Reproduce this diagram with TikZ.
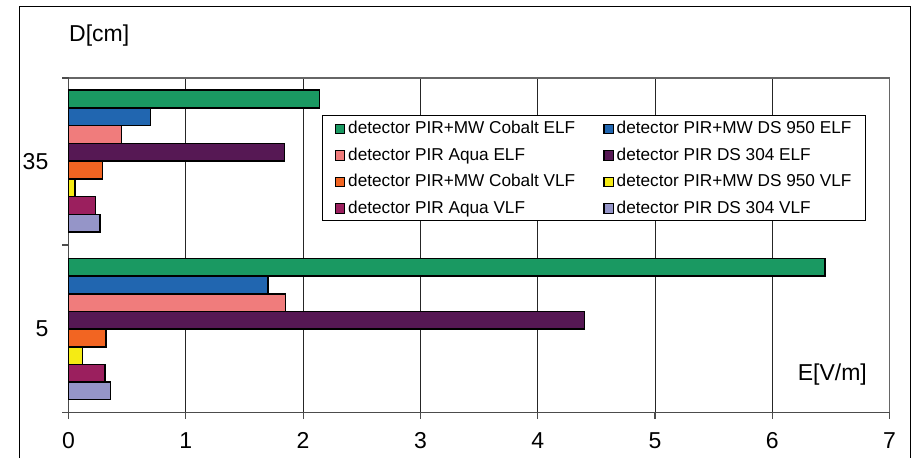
\documentclass[tikz,border=0pt]{standalone}
\usepackage{fontspec}
\setmainfont{Liberation Sans}
\definecolor{cgreen}{RGB}{26,153,98}
\definecolor{cblue}{RGB}{33,102,176}
\definecolor{cpink}{RGB}{240,124,124}
\definecolor{cpurple}{RGB}{86,24,84}
\definecolor{corange}{RGB}{242,101,34}
\definecolor{cyellow}{RGB}{245,235,20}
\definecolor{cmagenta}{RGB}{155,31,94}
\definecolor{clav}{RGB}{149,149,200}
\begin{document}
\begin{tikzpicture}[x=1pt,y=-1pt,
  bar/.style={draw=black,line width=1.5pt},
  grid/.style={draw=black!85,line width=0.9pt},
  frameline/.style={draw=black!60,line width=1.6pt},
  axisline/.style={draw=black!70,line width=1.2pt},
  legtext/.style={anchor=base west,inner sep=0pt,font=\fontsize{17.2}{20}\selectfont},
  ticklab/.style={font=\fontsize{23}{26}\selectfont,inner sep=0pt},
  legmark/.style={draw=black,line width=1.3pt}]
\useasboundingbox (0,0) rectangle (918,458);
\fill[white] (0,0) rectangle (918,458);
% outer frame
\draw[black,line width=1pt] (19,458) -- (19,6) -- (910,6) -- (910,458);
% grid lines
\foreach \i in {1,...,6} \draw[grid] ({68.5+117.3*\i},78) -- ({68.5+117.3*\i},412.3);
% plot border top and right
\draw[frameline] (68.5,78) -- (889.6,78) -- (889.6,412.3);
% axes
\draw[axisline] (68.5,78) -- (68.5,412.3) -- (889.6,412.3);
\foreach \y in {78,245,412.3} \draw[axisline] (62,\y) -- (68.5,\y);
\foreach \i in {0,...,7} \draw[axisline] ({68.5+117.3*\i},412.3) -- ({68.5+117.3*\i},418.5);
% bars group 35
\foreach \v/\c [count=\k from 0] in {2.14/cgreen,0.70/cblue,0.45/cpink,1.84/cpurple,0.29/corange,0.055/cyellow,0.23/cmagenta,0.27/clav}
  \draw[bar,fill=\c] (68.5,{90+17.75*\k}) rectangle ({68.5+117.3*\v},{90+17.75*(\k+1)});
% bars group 5
\foreach \v/\c [count=\k from 0] in {6.45/cgreen,1.70/cblue,1.85/cpink,4.40/cpurple,0.32/corange,0.12/cyellow,0.31/cmagenta,0.36/clav}
  \draw[bar,fill=\c] (68.5,{258.5+17.65*\k}) rectangle ({68.5+117.3*\v},{258.5+17.65*(\k+1)});
% tick labels
\foreach \i in {0,...,7} \node[ticklab,anchor=base] (xt\i) at ({68.5+117.3*\i},448.5) {\i};
\node[ticklab,anchor=base east] (y35) at (48.5,169.3) {35};
\node[ticklab,anchor=base east] (y5) at (48.5,336.7) {5};
\node[ticklab,anchor=base west] (dlab) at (69,41.7) {D[cm]};
\node[ticklab,anchor=base east] (elab) at (867,380) {E[V/m]};
% legend
\draw[fill=white,draw=black,line width=1pt] (322.3,115.3) rectangle (865,220);
\foreach \t/\c/\y [count=\k] in {detector PIR+MW Cobalt ELF/cgreen/129,detector PIR Aqua ELF/cpink/155.5,detector PIR+MW Cobalt VLF/corange/182,detector PIR Aqua VLF/cmagenta/208.5}{
  \draw[legmark,fill=\c] (335.5,\y-4.7) rectangle (344.8,\y+4.7);
  \node[legtext] (la\k) at (348,\y+4.5) {\t};
}
\foreach \t/\c/\y [count=\k] in {detector PIR+MW DS 950 ELF/cblue/129,detector PIR DS 304 ELF/cpurple/155.5,detector PIR+MW DS 950 VLF/cyellow/182,detector PIR DS 304 VLF/clav/208.5}{
  \draw[legmark,fill=\c] (604,\y-4.7) rectangle (613.3,\y+4.7);
  \node[legtext] (lb\k) at (616.5,\y+4.5) {\t};
}
\end{tikzpicture}
\end{document}
